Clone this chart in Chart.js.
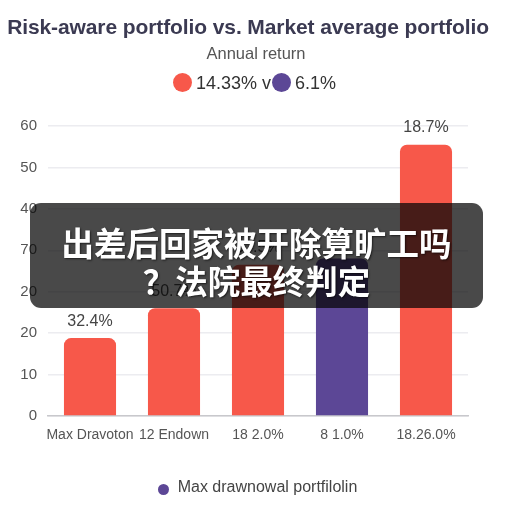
<!DOCTYPE html>
<html lang="en">
<head>
    <meta charset="UTF-8">
    <title>Risk-aware portfolio vs. Market average portfolio</title>
    <script src="https://cdn.jsdelivr.net/npm/chart.js"></script>
    <style>
        body {
            margin: 0;
            width: 512px;
            height: 512px;
            background: #ffffff;
            font-family: "Liberation Sans", Arial, sans-serif;
            position: relative;
            overflow: hidden;
        }
        #chart {
            position: absolute;
            left: 0;
            top: 0;
        }
        .txt {
            position: absolute;
            left: 0;
            width: 512px;
            text-align: center;
            white-space: nowrap;
        }
        #title {
            top: 15px;
            left: -8px;
            font-size: 21px;
            font-weight: bold;
            color: #3b3a52;
            letter-spacing: -0.1px;
        }
        #subtitle {
            top: 44px;
            font-size: 16.5px;
            color: #555555;
        }
        #legend-top {
            top: 73px;
            left: -2px;
            font-size: 18px;
            color: #333333;
        }
        #legend-bottom {
            top: 478px;
            left: 1px;
            font-size: 16px;
            color: #444444;
        }
        .dot {
            display: inline-block;
            border-radius: 50%;
            vertical-align: -3px;
        }
        #banner {
            position: absolute;
            left: 30px;
            top: 203px;
            width: 453px;
            height: 105px;
            border-radius: 11px;
            background: rgba(5, 5, 5, 0.73);
            color: #ffffff;
            font-family: "Noto Sans CJK SC", sans-serif;
            font-weight: bold;
            font-size: 32.5px;
            line-height: 38px;
            text-align: center;
            padding-top: 20px;
            box-sizing: border-box;
            text-shadow: 1px 1px 2px rgba(0,0,0,0.6);
        }
    </style>
</head>
<body>
    <canvas id="chart" width="512" height="512"></canvas>
    <div id="title" class="txt">Risk-aware portfolio vs. Market average portfolio</div>
    <div id="subtitle" class="txt">Annual return</div>
    <div id="legend-top" class="txt"></div>
    <div id="legend-bottom" class="txt"></div>
    <div id="banner">出差后回家被开除算旷工吗<br>？法院最终判定</div>

    <script>
        // data
        const categories = ['Max Dravoton', '12 Endown', '18 2.0%', '8 1.0%', '18.26.0%'];
        const barValues = [18.8, 26.0, 36.5, 38.0, 65.5];
        const barLabels = ['32.4%', '50.7%', '37.5%', '', '18.7%'];
        const barColors = ['#f7584a', '#f7584a', '#f7584a', '#5c4796', '#f7584a'];
        const yTickLabels = ['0', '10', '20', '20', '70', '40', '50', '60'];
        const topLegend = [['14.33% v', '#f7584a'], ['6.1%', '#5c4796']];
        const bottomLegend = [['Max drawnowal portfilolin', '#5c4796']];

        function legendHtml(items, size, gap) {
            return items.map(it =>
                '<span class="dot" style="width:' + size + 'px;height:' + size + 'px;background:' + it[1] + ';margin-right:' + gap + 'px;margin-left:1px"></span>' + it[0]
            ).join('');
        }
        document.getElementById('legend-top').innerHTML = legendHtml(topLegend, 19, 4);
        document.getElementById('legend-bottom').innerHTML = legendHtml(bottomLegend, 11, 9);

        // labels above the bars
        const barValueLabels = {
            id: 'barValueLabels',
            afterDatasetsDraw(chart) {
                const ctx = chart.ctx;
                const meta = chart.getDatasetMeta(0);
                ctx.save();
                ctx.font = '16px "Liberation Sans", Arial, sans-serif';
                ctx.fillStyle = '#444444';
                ctx.textAlign = 'center';
                ctx.textBaseline = 'bottom';
                meta.data.forEach((bar, i) => {
                    ctx.fillText(barLabels[i], bar.x, bar.y - 9);
                });
                ctx.restore();
            }
        };

        new Chart(document.getElementById('chart'), {
            type: 'bar',
            data: {
                labels: categories,
                datasets: [{
                    data: barValues,
                    backgroundColor: barColors,
                    borderRadius: { topLeft: 7, topRight: 7 },
                    borderSkipped: 'bottom',
                    barPercentage: 0.62,
                    categoryPercentage: 1.0
                }]
            },
            options: {
                responsive: false,
                animation: false,
                layout: { padding: { top: 126, right: 44, left: 0, bottom: 0 } },
                plugins: {
                    legend: { display: false },
                    tooltip: { enabled: false }
                },
                scales: {
                    x: {
                        grid: { display: false, drawTicks: false },
                        border: { color: '#c8c8cc', width: 1.5 },
                        ticks: {
                            color: '#555555',
                            font: { size: 14, family: '"Liberation Sans", Arial, sans-serif' },
                            padding: 11,
                            maxRotation: 0,
                            autoSkip: false
                        },
                        afterFit: s => { s.height = 96; }
                    },
                    y: {
                        min: 0,
                        max: 70,
                        grid: { color: '#ececf0', drawTicks: false, lineWidth: 1.5 },
                        border: { display: false },
                        ticks: {
                            stepSize: 10,
                            color: '#555555',
                            font: { size: 15, family: '"Liberation Sans", Arial, sans-serif' },
                            padding: 11,
                            callback: (v, i) => yTickLabels[i]
                        },
                        afterFit: s => { s.width = 48; }
                    }
                }
            },
            plugins: [barValueLabels]
        });
    </script>
</body>
</html>
